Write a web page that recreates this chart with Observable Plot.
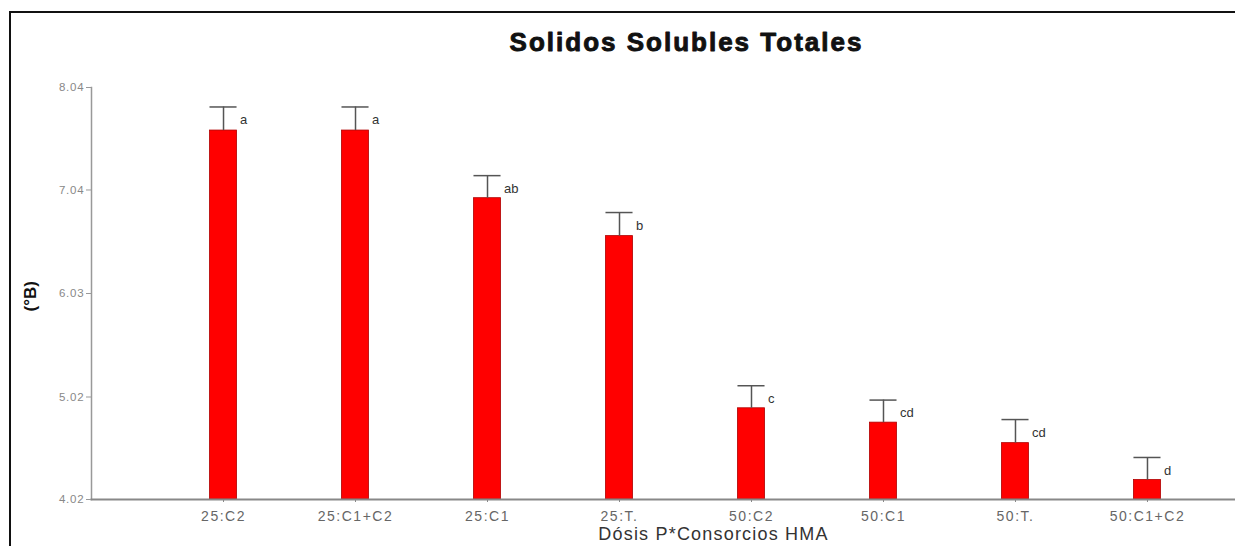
<!DOCTYPE html>
<html>
<head>
<meta charset="utf-8">
<script src="https://cdn.jsdelivr.net/npm/d3@7"></script>
<script src="https://cdn.jsdelivr.net/npm/@observablehq/plot@0.6"></script>
<style>
  html, body { margin: 0; padding: 0; background: #fff; }
  #wrap { position: relative; width: 1235px; height: 546px; overflow: hidden; font-family: "Liberation Sans", Arial, sans-serif; }
  #border { position: absolute; left: 9px; top: 11px; width: 1300px; height: 600px; border-left: 2px solid #111; border-top: 2px solid #111; pointer-events: none; }
  #chart svg { display: block; }
  #chart g[aria-label="x-axis tick label"] text { letter-spacing: 1.5px; }
  #chart g[aria-label="y-axis tick label"] text { letter-spacing: 0.8px; }
  #chart text[aria-label="title"] { letter-spacing: 2px; }
  #chart text[aria-label="xlabel"] { letter-spacing: 1.2px; }
</style>
</head>
<body>
<div id="wrap">
  <div id="chart"></div>
  <div id="border"></div>
</div>
<script>
const categories = ["25:C2", "25:C1+C2", "25:C1", "25:T.", "50:C2", "50:C1", "50:T.", "50:C1+C2"];
const means = [7.62, 7.62, 6.96, 6.59, 4.91, 4.77, 4.57, 4.21];
const errors = [0.23, 0.23, 0.22, 0.23, 0.22, 0.22, 0.23, 0.22];
const letters = ["a", "a", "ab", "b", "c", "cd", "cd", "d"];
const yTicks = [4.02, 5.02, 6.03, 7.04, 8.04];
const title = "Solidos Solubles Totales";
const xLabel = "Dósis P*Consorcios HMA";
const yLabel = "(°B)";
const yMin = 4.02, yMax = 8.04;

const data = categories.map((c, i) => ({cat: c, mean: means[i], top: means[i] + errors[i], letter: letters[i]}));

const chart = Plot.plot({
  width: 1235,
  height: 546,
  marginTop: 87,
  marginBottom: 47,
  marginLeft: 91,
  marginRight: 0,
  style: {fontFamily: "Liberation Sans, Arial, sans-serif", background: "#fff"},
  x: {domain: categories, paddingInner: 0.795, paddingOuter: 0.731, align: 0.614, round: false, label: null},
  y: {domain: [yMin, yMax], label: null},
  marks: [
    Plot.barY(data, {x: "cat", y1: yMin, y2: "mean", fill: "#ff0000", stroke: "#b00000", strokeWidth: 0.8}),
    Plot.ruleX(data, {x: "cat", y1: "mean", y2: "top", stroke: "#555", strokeWidth: 1.5}),
    Plot.tickY(data, {x: "cat", y: "top", stroke: "#555", strokeWidth: 1.5}),
    Plot.text(data, {x: "cat", y: "top", text: "letter", textAnchor: "start", dx: 16.5, dy: 13, fontSize: 13, fill: "#333"}),
    Plot.frame({anchor: "left", stroke: "#999", strokeWidth: 1.5}),
    Plot.frame({anchor: "bottom", stroke: "#888", strokeWidth: 2}),
    Plot.axisY({ticks: yTicks, tickFormat: d => d.toFixed(2), tickSize: 5, tickPadding: 2, fontSize: 11.5, color: "#888", stroke: "#999", label: null}),
    Plot.axisX({tickSize: 3, tickPadding: 9, fontSize: 14, color: "#666", stroke: "#888", label: null}),
    Plot.text([title], {frameAnchor: "top", dy: -55, dx: 23, fontSize: 26, fontWeight: "bold", fill: "#111", stroke: "#111", strokeWidth: 0.9, ariaLabel: () => "title"}),
    Plot.text([xLabel], {frameAnchor: "bottom", dy: 40, dx: 50, fontSize: 18, fill: "#333", ariaLabel: () => "xlabel"}),
    Plot.text([yLabel], {frameAnchor: "left", dx: -61, dy: 18, rotate: -90, fontSize: 17, fontWeight: "bold", fill: "#111"})
  ]
});
document.getElementById("chart").appendChild(chart);
</script>
</body>
</html>
